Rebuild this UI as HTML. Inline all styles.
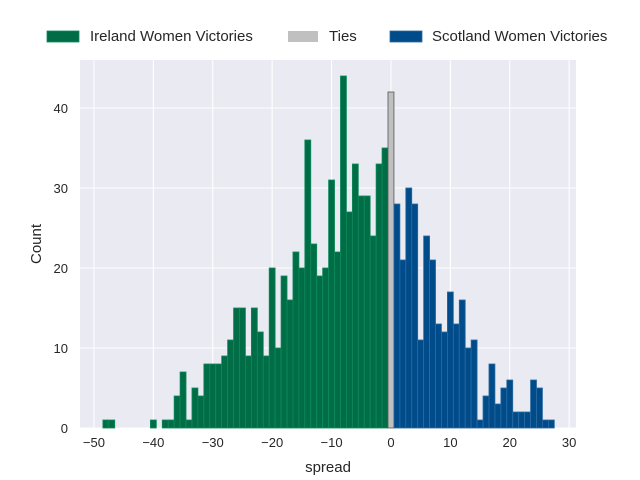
<!DOCTYPE html>
<html><head><meta charset="utf-8"><style>
body{margin:0;background:#fff;}
svg{display:block;font-family:"Liberation Sans","DejaVu Sans",sans-serif;}
</style></head><body>
<svg id="chart" width="640" height="480" viewBox="0 0 640 480">
<rect x="0" y="0" width="640" height="480" fill="#fff"/>
<rect x="80" y="60" width="496" height="368" fill="#eaeaf2"/>
<g id="grid"></g><g id="bars"></g><g id="ticks"></g>
<text x="328" y="472" font-size="15" text-anchor="middle" fill="#262626">spread</text>
<text x="41" y="244" font-size="15" text-anchor="middle" fill="#262626" transform="rotate(-90 41 244)">Count</text>
<g>
<g><rect x="47" y="31" width="32" height="11" fill="#006d46" stroke="#0e8a5c" stroke-width="0.8"/><text x="90" y="41" font-size="15" fill="#262626">Ireland Women Victories</text></g>
<g><rect x="288" y="31" width="30" height="11" fill="#c0c0c0"/><text x="329" y="41" font-size="15" fill="#262626">Ties</text></g>
<g><rect x="390" y="31" width="32" height="11" fill="#004c8a" stroke="#2c6aa0" stroke-width="0.8"/><text x="432" y="41" font-size="15" fill="#262626">Scotland Women Victories</text></g>
</g>
</svg>
<script>
const irelandBins = [-48,-47,-40,-38,-37,-36,-35,-34,-33,-32,-31,-30,-29,-28,-27,-26,-25,-24,-23,-22,-21,-20,-19,-18,-17,-16,-15,-14,-13,-12,-11,-10,-9,-8,-7,-6,-5,-4,-3,-2,-1];
const irelandCounts = [1,1,1,1,1,4,7,1,5,4,8,8,8,9,11,15,15,9,15,12,9,20,10,19,16,22,20,36,23,19,20,31,22,44,27,33,29,29,24,33,35];
const tieBins = [0];
const tieCounts = [42];
const scotlandBins = [1,2,3,4,5,6,7,8,9,10,11,12,13,14,15,16,17,18,19,20,21,22,23,24,25,26,27];
const scotlandCounts = [28,21,30,28,11,24,21,13,12,17,13,16,10,11,1,4,8,3,5,6,2,2,2,6,5,1,1];
const xTicks = [-50,-40,-30,-20,-10,0,10,20,30];
const yTicks = [0,10,20,30,40];

const X0=80,X1=576,Y0=428,Y1=60, XMIN=-52.35, XMAX=31.15, YMAX=46;
const xs=v=>X0+(v-XMIN)/(XMAX-XMIN)*(X1-X0);
const ys=v=>Y0-(v/YMAX)*(Y0-Y1);
const NS="http://www.w3.org/2000/svg";
function mk(tag,attrs,parent){const e=document.createElementNS(NS,tag);for(const k in attrs)e.setAttribute(k,attrs[k]);parent.appendChild(e);return e;}
const grid=document.getElementById('grid'),bars=document.getElementById('bars'),ticks=document.getElementById('ticks');
xTicks.forEach(t=>{
  const g=mk('line',{x1:xs(t),x2:xs(t),y1:Y1,y2:Y0,stroke:'#fff','stroke-width':1.1},grid);
  
  
  const l=mk('text',{x:xs(t),y:Y0+19,'font-size':13,'text-anchor':'middle',fill:'#262626'},ticks);
  l.textContent=(t<0?'\u2212'+(-t):t);
  
  
});
yTicks.forEach(t=>{
  const g=mk('line',{x1:X0,x2:X1,y1:ys(t),y2:ys(t),stroke:'#fff','stroke-width':1.1},grid);
  
  
  const l=mk('text',{x:X0-12,y:ys(t)+5,'font-size':13,'text-anchor':'end',fill:'#262626'},ticks);
  l.textContent=t;
  
  
});
function drawSeries(bins,counts,fill,stroke,name){
  bins.forEach((b,i)=>{
    const x=xs(b-0.5),w=xs(b+0.5)-x,y=ys(counts[i]);
    const r=mk('rect',{x:x,y:y,width:w,height:Y0-y,fill:fill,stroke:stroke,'stroke-width':0.8},bars);
    
    
  });
}
drawSeries(irelandBins,irelandCounts,'#006d46','#0e8a5c','bar-ireland');
drawSeries(tieBins,tieCounts,'#c0c0c0','#555','bar-ties');
drawSeries(scotlandBins,scotlandCounts,'#004c8a','#2c6aa0','bar-scotland');
</script>
</body></html>
